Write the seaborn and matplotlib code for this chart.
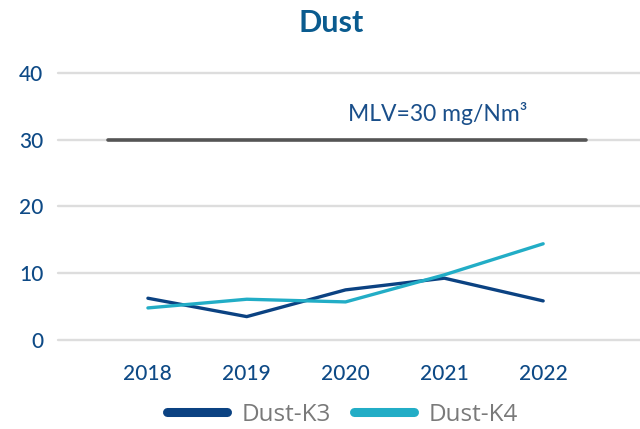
import matplotlib
matplotlib.use("Agg")
import matplotlib.pyplot as plt
import seaborn as sns
import pandas as pd
from matplotlib.lines import Line2D

years = ["2018", "2019", "2020", "2021", "2022"]
dust_k3 = [6.25, 3.5, 7.5, 9.25, 5.85]
dust_k4 = [4.8, 6.1, 5.7, 9.75, 14.4]
mlv = 30
series_names = ["Dust-K3", "Dust-K4"]
yticks = [0, 10, 20, 30, 40]

sns.set_theme(style="white")
plt.rcParams['font.family'] = ['Lato', 'DejaVu Sans']

c_k3 = "#0b4282"
c_k4 = "#22adc6"
tick_c = "#0e4a86"

df = pd.DataFrame({
    "idx": list(range(len(years))) * 2,
    "value": dust_k3 + dust_k4,
    "series": [series_names[0]] * len(years) + [series_names[1]] * len(years),
})

fig = plt.figure(figsize=(6.4, 4.29), dpi=100)
ax = fig.add_axes([58 / 640, 1 - 340 / 429, 1 - 58 / 640, (340 - 72.7) / 429])

for y in yticks:
    ax.axhline(y, color="#dddddd", lw=1.7, zorder=0)

sns.lineplot(data=df, x="idx", y="value", hue="series",
             palette={series_names[0]: c_k3, series_names[1]: c_k4},
             lw=2.4, ax=ax, legend=False, sort=False)
for l in ax.lines:
    l.set_clip_on(False)

ax.plot([-0.405, 4.43], [mlv, mlv], color="#555555", lw=2.6, solid_capstyle="round", zorder=3)
ax.text(2.93, 32.8, "MLV=30 mg/Nm\u00b3", color="#1a4f8a", fontsize=16.5,
        ha="center", va="baseline")

ax.set_xlim(-0.91, 4.98)
ax.set_ylim(0, 40)
ax.set_xticks(range(len(years)))
ax.set_xticklabels(years)
ax.set_yticks(yticks)
ax.tick_params(axis="both", length=0, labelsize=15, labelcolor=tick_c)
ax.tick_params(axis="x", pad=17)
ax.tick_params(axis="y", pad=10.5)
for lab in ax.get_xticklabels() + ax.get_yticklabels():
    lab.set_fontweight("medium")
for s in ax.spines.values():
    s.set_visible(False)
ax.set_xlabel("")
ax.set_ylabel("")

fig.text(331 / 640, 1 - 23 / 429, "Dust", ha="center", va="center",
         fontsize=22, fontweight="bold", color="#0a5b8f")

handles = [Line2D([0], [0], color=c_k3, lw=6.5, solid_capstyle="round"),
           Line2D([0], [0], color=c_k4, lw=6.5, solid_capstyle="round")]
leg = fig.legend(handles, series_names, loc="center", bbox_to_anchor=(342.5 / 640, 1 - 415 / 429),
                 ncol=2, frameon=False, handlelength=2.47,
                 columnspacing=0.97, handletextpad=0.6,
                 prop={"family": ["Open Sans", "DejaVu Sans"], "size": 17.5})
for t in leg.get_texts():
    t.set_color("#7a7a7a")

fig.savefig("out.png", dpi=100)
